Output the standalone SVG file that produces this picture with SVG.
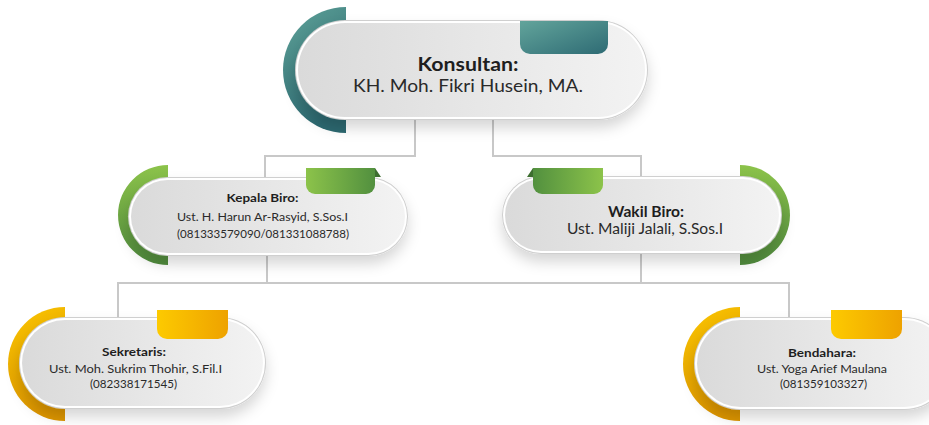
<svg xmlns="http://www.w3.org/2000/svg" width="929" height="425" viewBox="0 0 929 425">
<style>
.ln{fill:none;stroke:#c8c8c8;stroke-width:2}
.t{font-family:Lato,"Noto Sans",sans-serif;fill:#2a2a2a;text-anchor:middle}
.b{font-weight:bold;fill:#1e1e1e}
.pb{fill:#cfcfcf}
.pw{fill:#ffffff}
.pf{fill:url(#gPill)}
</style>
<defs>
<linearGradient id="gPill" x1="0" y1="0" x2="1" y2="0">
<stop offset="0" stop-color="#dadada"/><stop offset="1" stop-color="#f3f3f3"/>
</linearGradient>
<linearGradient id="gTealArc" x1="0" y1="0" x2="0.4" y2="1">
<stop offset="0" stop-color="#5fa399"/><stop offset="1" stop-color="#2c6870"/>
</linearGradient>
<linearGradient id="gTealTab" x1="0" y1="0" x2="1" y2="1">
<stop offset="0" stop-color="#62a49b"/><stop offset="1" stop-color="#2e6b74"/>
</linearGradient>
<linearGradient id="gGreenArc" x1="0" y1="0" x2="0" y2="1">
<stop offset="0" stop-color="#8cc34a"/><stop offset="1" stop-color="#4f8a3d"/>
</linearGradient>
<linearGradient id="gGreenTabR" x1="0" y1="0" x2="1" y2="0">
<stop offset="0" stop-color="#8cc34a"/><stop offset="1" stop-color="#52903f"/>
</linearGradient>
<linearGradient id="gGreenTabL" x1="0" y1="0" x2="1" y2="0">
<stop offset="0" stop-color="#52903f"/><stop offset="1" stop-color="#8cc34a"/>
</linearGradient>
<linearGradient id="gYelArc" x1="0" y1="0" x2="0.3" y2="1">
<stop offset="0" stop-color="#fcc700"/><stop offset="1" stop-color="#dc9500"/>
</linearGradient>
<linearGradient id="gYelTab" x1="0" y1="0" x2="1" y2="0">
<stop offset="0" stop-color="#fdca00"/><stop offset="1" stop-color="#eea200"/>
</linearGradient>
<filter id="sh" x="-20%" y="-30%" width="140%" height="180%">
<feDropShadow dx="0" dy="8" stdDeviation="7" flood-color="#000" flood-opacity="0.16"/>
</filter>
</defs>

<g id="connectors">
<path class="ln" d="M415 118 V156 H265 V178"/>
<path class="ln" d="M493 118 V156 H641 V178"/>
<path class="ln" d="M267 254 V283"/>
<path class="ln" d="M641 252 V283"/>
<path class="ln" d="M118 319 V283 H789 V319"/>
</g>

<g id="konsultan">
<path d="M346 7 A63 63 0 0 0 346 133 Z" fill="url(#gTealArc)"/>
<g filter="url(#sh)">
<rect class="pb" x="295" y="20" width="353" height="100" rx="50"/>
</g>
<rect class="pw" x="296" y="21" width="351" height="98" rx="49"/>
<rect class="pf" x="298" y="23" width="347" height="94" rx="47"/>
<path d="M520 21 H608 V44 A10 10 0 0 1 598 54 H530 A10 10 0 0 1 520 44 Z" fill="url(#gTealTab)"/>
<text class="t b" x="468" y="71" font-size="18" textLength="101" lengthAdjust="spacingAndGlyphs">Konsultan:</text>
<text class="t" x="468" y="92" font-size="18" textLength="230" lengthAdjust="spacingAndGlyphs">KH. Moh. Fikri Husein, MA.</text>
</g>

<g id="kepala-biro">
<path d="M168 165 A50 50 0 0 0 168 265 Z" fill="url(#gGreenArc)"/>
<g filter="url(#sh)">
<rect class="pb" x="128" y="177" width="280" height="79" rx="39.5"/>
</g>
<rect class="pw" x="129" y="178" width="278" height="77" rx="38.5"/>
<rect class="pf" x="131" y="180" width="274" height="73" rx="36.5"/>
<path d="M375 168 L381 177 H375 Z" fill="#3d6e30"/>
<path d="M306 168 H375 V185 A9 9 0 0 1 366 194 H315 A9 9 0 0 1 306 185 Z" fill="url(#gGreenTabR)"/>
<text class="t b" x="262.5" y="202" font-size="12" textLength="72" lengthAdjust="spacingAndGlyphs">Kepala Biro:</text>
<text class="t" x="262.5" y="221" font-size="12" textLength="171" lengthAdjust="spacingAndGlyphs">Ust. H. Harun Ar-Rasyid, S.Sos.I</text>
<text class="t" x="263" y="238" font-size="12" textLength="172" lengthAdjust="spacingAndGlyphs">(081333579090/081331088788)</text>
</g>

<g id="wakil-biro">
<path d="M740 165 A50 50 0 0 1 740 265 Z" fill="url(#gGreenArc)"/>
<g filter="url(#sh)">
<rect class="pb" x="502" y="176" width="280" height="78" rx="39"/>
</g>
<rect class="pw" x="503" y="177" width="278" height="76" rx="38"/>
<rect class="pf" x="505" y="179" width="274" height="72" rx="36"/>
<path d="M533 168 L527 177 H533 Z" fill="#3d6e30"/>
<path d="M533 168 H603 V185 A9 9 0 0 1 594 194 H542 A9 9 0 0 1 533 185 Z" fill="url(#gGreenTabL)"/>
<text class="t b" x="646" y="217" font-size="15" textLength="76" lengthAdjust="spacingAndGlyphs">Wakil Biro:</text>
<text class="t" x="645" y="234" font-size="15" textLength="156" lengthAdjust="spacingAndGlyphs">Ust. Maliji Jalali, S.Sos.I</text>
</g>

<g id="sekretaris">
<path d="M65 307 A57 57 0 0 0 65 421 Z" fill="url(#gYelArc)"/>
<g filter="url(#sh)">
<rect class="pb" x="19" y="317" width="247" height="92" rx="46"/>
</g>
<rect class="pw" x="20" y="318" width="245" height="90" rx="45"/>
<rect class="pf" x="22" y="320" width="241" height="86" rx="43"/>
<path d="M157 310 H228 V329 A10 10 0 0 1 218 339 H167 A10 10 0 0 1 157 329 Z" fill="url(#gYelTab)"/>
<text class="t b" x="134" y="356" font-size="12" textLength="64" lengthAdjust="spacingAndGlyphs">Sekretaris:</text>
<text class="t" x="135.5" y="373" font-size="12" textLength="173" lengthAdjust="spacingAndGlyphs">Ust. Moh. Sukrim Thohir, S.Fil.I</text>
<text class="t" x="133.5" y="388" font-size="12" textLength="87" lengthAdjust="spacingAndGlyphs">(082338171545)</text>
</g>

<g id="bendahara">
<path d="M740 307 A57 57 0 0 0 740 421 Z" fill="url(#gYelArc)"/>
<g filter="url(#sh)">
<rect class="pb" x="694" y="317" width="257" height="93" rx="46.5"/>
</g>
<rect class="pw" x="695" y="318" width="255" height="91" rx="45.5"/>
<rect class="pf" x="697" y="320" width="251" height="87" rx="43.5"/>
<path d="M831 310 H902 V329 A10 10 0 0 1 892 339 H841 A10 10 0 0 1 831 329 Z" fill="url(#gYelTab)"/>
<text class="t b" x="822" y="357" font-size="12" textLength="68" lengthAdjust="spacingAndGlyphs">Bendahara:</text>
<text class="t" x="822" y="373" font-size="12" textLength="130" lengthAdjust="spacingAndGlyphs">Ust. Yoga Arief Maulana</text>
<text class="t" x="823.5" y="388" font-size="12" textLength="87" lengthAdjust="spacingAndGlyphs">(081359103327)</text>
</g>
</svg>
